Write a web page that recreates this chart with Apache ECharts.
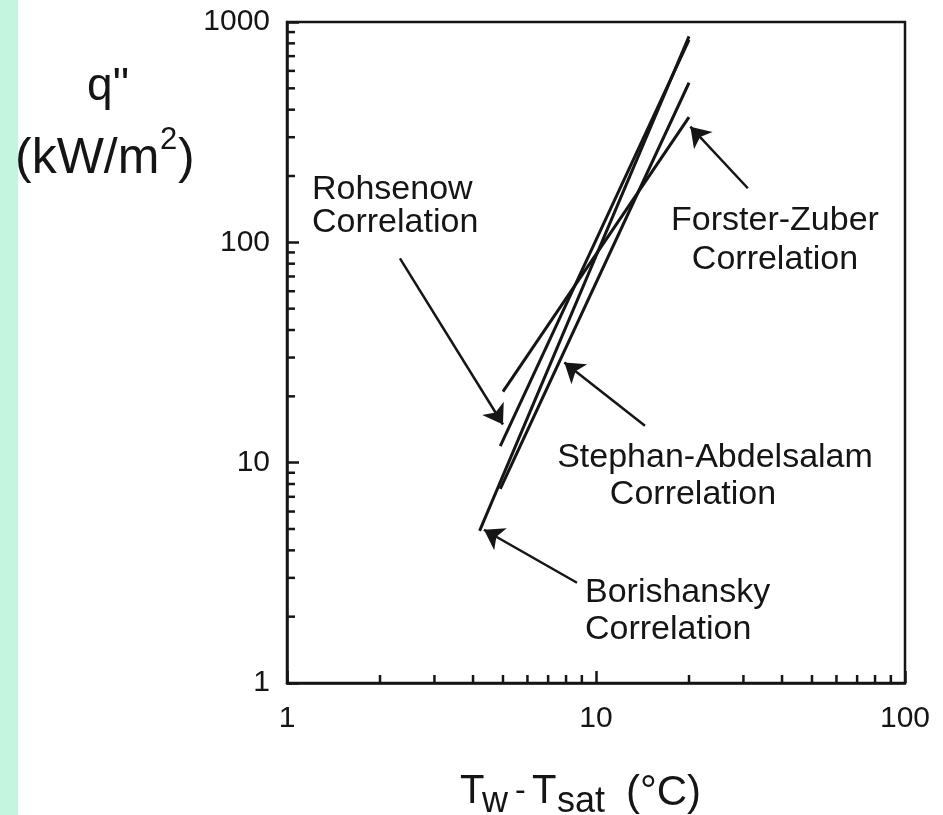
<!DOCTYPE html>
<html>
<head>
<meta charset="utf-8">
<title>Boiling correlations</title>
<script src="https://cdn.jsdelivr.net/npm/echarts@6/dist/echarts.min.js"></script>
<style>
  html, body { margin: 0; padding: 0; background: #fff; }
  #chart { width: 943px; height: 815px; }
</style>
</head>
<body>
<div id="chart"></div>
<script>
// axis ranges and minor tick values (decade sub-divisions)
const X_MIN = 1, X_MAX = 100;
const Y_MIN = 1, Y_MAX = 1000;
const xMinorTicks = [2, 3, 4, 5, 6, 7, 8, 9, 20, 30, 40, 50, 60, 70, 80, 90];
const yMinorTicks = [2, 3, 4, 5, 6, 7, 8, 9, 20, 30, 40, 50, 60, 70, 80, 90,
  200, 300, 400, 500, 600, 700, 800, 900];

// correlations: [Tw - Tsat (C), q'' (kW/m2)]
const rohsenow = [[4.9, 11.9], [20, 830]];
const borishansky = [[4.2, 4.9], [20, 860]];
const stephanAbdelsalam = [[4.9, 7.6], [20, 530]];
const forsterZuber = [[5.0, 21], [20, 370]];

// annotation arrows: [tail, tip] in data units
const rohsenowArrow = [[2.32, 84.5], [5.0, 14.9]];
const forsterArrow = [[31, 176], [20.2, 335]];
const stephanArrow = [[14.4, 14.7], [7.9, 28.5]];
const borishanskyArrow = [[8.68, 2.85], [4.34, 4.96]];

const INK = '#151515';
const FONT = '"Liberation Sans", Arial, sans-serif';

const chart = echarts.init(document.getElementById('chart'));

function arrow(pair) {
  return {
    silent: true,
    symbol: ['none', 'arrow'],
    symbolSize: 19,
    label: { show: false },
    lineStyle: { color: INK, width: 2.5, type: 'solid' },
    emphasis: { disabled: true },
    data: [[{ coord: pair[0] }, { coord: pair[1] }]]
  };
}

function corrSeries(name, data, arr) {
  return {
    name: name,
    type: 'line',
    data: data,
    symbol: 'none',
    lineStyle: { color: INK, width: 3 },
    markLine: arrow(arr)
  };
}

// small minor tick marks drawn inward from the axes
function minorTickSeries(data, horizontal) {
  return {
    type: 'custom',
    silent: true,
    data: data,
    renderItem: function (params, api) {
      const p = api.coord([api.value(0), api.value(1)]);
      const len = 8;
      return {
        type: 'line',
        shape: horizontal
          ? { x1: p[0], y1: p[1], x2: p[0] + len, y2: p[1] }
          : { x1: p[0], y1: p[1], x2: p[0], y2: p[1] - len },
        style: { stroke: INK, lineWidth: 2.5 }
      };
    }
  };
}

// text placed by its top edge
function txt(str, x, top, size, align) {
  return {
    type: 'text',
    x: x, y: top,
    style: {
      text: str,
      font: size + 'px ' + FONT,
      fill: INK,
      align: align || 'left',
      verticalAlign: 'top'
    }
  };
}

const option = {
  animation: false,
  backgroundColor: '#ffffff',
  grid: {
    left: 287, top: 22, right: 38, bottom: 132,
    show: true, borderColor: INK, borderWidth: 2.5, backgroundColor: 'transparent'
  },
  xAxis: {
    type: 'log', logBase: 10, min: X_MIN, max: X_MAX,
    axisLine: { show: true, lineStyle: { color: INK, width: 2.5 } },
    axisTick: { show: true, inside: true, length: 12, lineStyle: { color: INK, width: 2.5 } },
    minorTick: { show: false },
    splitLine: { show: false },
    axisLabel: {
      show: true, margin: 21, color: INK, fontSize: 30, fontFamily: FONT,
      showMinLabel: true, showMaxLabel: true,
      formatter: function (v) { return String(v); }
    }
  },
  yAxis: {
    type: 'log', logBase: 10, min: Y_MIN, max: Y_MAX,
    axisLine: { show: true, lineStyle: { color: INK, width: 2.5 } },
    axisTick: { show: true, inside: true, length: 12, lineStyle: { color: INK, width: 2.5 } },
    minorTick: { show: false },
    splitLine: { show: false },
    axisLabel: {
      show: true, margin: 17, color: INK, fontSize: 30, fontFamily: FONT,
      showMinLabel: true, showMaxLabel: true,
      formatter: function (v) { return String(v); }
    }
  },
  series: [
    corrSeries('Rohsenow', rohsenow, rohsenowArrow),
    corrSeries('Borishansky', borishansky, borishanskyArrow),
    corrSeries('Stephan-Abdelsalam', stephanAbdelsalam, stephanArrow),
    corrSeries('Forster-Zuber', forsterZuber, forsterArrow),
    minorTickSeries(xMinorTicks.map(function (v) { return [v, Y_MIN]; }), false),
    minorTickSeries(yMinorTicks.map(function (v) { return [X_MIN, v]; }), true)
  ],
  graphic: [
    // mint strip on the left edge
    { type: 'rect', left: 0, top: 0, shape: { width: 18, height: 815 },
      style: { fill: '#c4f5df' }, z: -10 },
    // y axis title
    txt('q"', 108, 64, 46, 'center'),
    txt('(kW/m', 15, 134, 50, 'left'),
    txt('2', 160, 125, 31, 'left'),
    txt(')', 178, 134, 50, 'left'),
    // x axis title
    txt('T', 460, 772, 40),
    txt('w', 482, 784, 36),
    txt('-', 515, 775, 32),
    txt('T', 532, 772, 40),
    txt('sat', 557, 784, 36),
    txt('(°C)', 626, 772, 42),
    // correlation labels
    txt('Rohsenow', 312, 173, 34),
    txt('Correlation', 312, 206, 34),
    txt('Forster-Zuber', 775, 204, 34, 'center'),
    txt('Correlation', 775, 243, 34, 'center'),
    txt('Stephan-Abdelsalam', 715, 441, 34, 'center'),
    txt('Correlation', 693, 478, 34, 'center'),
    txt('Borishansky', 585, 576, 34),
    txt('Correlation', 585, 613, 34)
  ]
};

chart.setOption(option);
</script>
</body>
</html>
